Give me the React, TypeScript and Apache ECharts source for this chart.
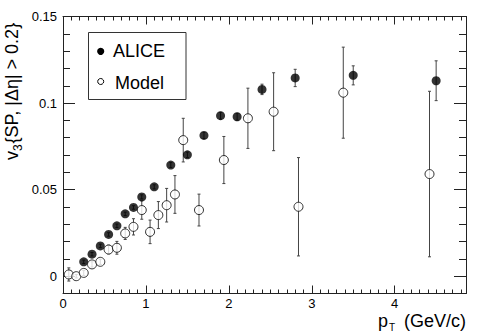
import { useEffect, useRef } from "react";
import * as echarts from "echarts";

const FONT = "Liberation Sans";

// ALICE data (filled circles)
const aliceX = [0.25, 0.35, 0.45, 0.55, 0.65, 0.75, 0.85, 0.95, 1.1, 1.3, 1.5, 1.7, 1.9, 2.1, 2.4, 2.8, 3.5, 4.5];
const aliceV = [0.0083, 0.0127, 0.0175, 0.0241, 0.0291, 0.036, 0.0397, 0.0458, 0.0516, 0.0642, 0.0701, 0.0813, 0.0927, 0.0921, 0.1079, 0.1145, 0.116, 0.1129];
const aliceErr = [0.001, 0.001, 0.001, 0.001, 0.001, 0.001, 0.001, 0.0012, 0.0012, 0.0014, 0.0016, 0.0018, 0.002, 0.002, 0.003, 0.005, 0.0055, 0.0115];

// Model data (open circles)
const modelX = [0.07, 0.16, 0.25, 0.35, 0.45, 0.55, 0.65, 0.75, 0.85, 0.95, 1.05, 1.15, 1.25, 1.35, 1.45, 1.64, 1.94, 2.23, 2.54, 2.84, 3.38, 4.42];
const modelV = [0.001, 0.0, 0.0019, 0.0068, 0.0083, 0.0154, 0.0164, 0.0247, 0.0285, 0.0382, 0.0256, 0.0353, 0.041, 0.0472, 0.0786, 0.0382, 0.0671, 0.0912, 0.095, 0.0401, 0.106, 0.059];
const modelErr = [0.0038, 0.001, 0.0015, 0.0015, 0.0015, 0.0025, 0.0037, 0.0035, 0.0047, 0.0053, 0.0068, 0.0078, 0.0097, 0.0109, 0.0126, 0.0092, 0.0136, 0.0174, 0.0225, 0.0284, 0.0263, 0.0478];

// Axis settings
const X_MIN = 0;
const X_MAX = 4.86;
const Y_MIN = -0.01;
const Y_MAX = 0.15;
const yMajorTicks = [0, 0.05, 0.1, 0.15];

const LINE = { color: "#222", width: 1 };

function errorSeries(xs: number[], vs: number[], es: number[]) {
  return {
    type: "custom",
    xAxisIndex: 0,
    yAxisIndex: 0,
    silent: true,
    z: 1,
    data: xs.map((x, i) => [x, vs[i] - es[i], vs[i] + es[i]]),
    encode: { x: 0, y: [1, 2] },
    renderItem: (_params: any, api: any) => {
      const lo = api.coord([api.value(0), api.value(1)]);
      const hi = api.coord([api.value(0), api.value(2)]);
      const style = { stroke: "#444", lineWidth: 1 };
      return {
        type: "group",
        children: [
          { type: "line", shape: { x1: lo[0], y1: lo[1], x2: hi[0], y2: hi[1] }, style },
          { type: "line", shape: { x1: lo[0] - 1.5, y1: lo[1], x2: lo[0] + 1.5, y2: lo[1] }, style },
          { type: "line", shape: { x1: hi[0] - 1.5, y1: hi[1], x2: hi[0] + 1.5, y2: hi[1] }, style },
        ],
      };
    },
  };
}

function xAxisDef(position: "bottom" | "top", minor: boolean) {
  return {
    type: "value",
    position,
    min: X_MIN,
    max: X_MAX,
    interval: minor ? 0.1 : 1,
    axisLine: { show: !minor, onZero: false, lineStyle: LINE },
    axisTick: { show: true, inside: true, length: minor ? 4 : 8, lineStyle: LINE },
    axisLabel: {
      show: !minor && position === "bottom",
      fontSize: 13,
      fontFamily: FONT,
      color: "#000",
      margin: 3,
      showMaxLabel: false,
    },
    splitLine: { show: false },
  };
}

function yAxisDef(position: "left" | "right", minor: boolean) {
  const base: any = {
    type: "value",
    position,
    min: Y_MIN,
    max: Y_MAX,
    axisLine: { show: !minor, onZero: false, lineStyle: LINE },
    splitLine: { show: false },
  };
  if (minor) {
    base.interval = 0.01;
    base.axisTick = { show: true, inside: true, length: 7, lineStyle: LINE };
    base.axisLabel = { show: false };
  } else {
    base.axisTick = { show: true, inside: true, length: 12, lineStyle: LINE, customValues: yMajorTicks };
    base.axisLabel = {
      show: position === "left",
      customValues: yMajorTicks,
      formatter: (v: number) => String(Math.round(v * 1000) / 1000),
      fontSize: 13,
      fontFamily: FONT,
      color: "#000",
      margin: 6,
    };
  }
  return base;
}

function buildOption() {
  return {
    animation: false,
    backgroundColor: "#fff",
    grid: { left: 63, top: 16.5, width: 403, height: 277 },
    xAxis: [xAxisDef("bottom", false), xAxisDef("bottom", true), xAxisDef("top", false), xAxisDef("top", true)],
    yAxis: [yAxisDef("left", false), yAxisDef("left", true), yAxisDef("right", false), yAxisDef("right", true)],
    series: [
      errorSeries(aliceX, aliceV, aliceErr),
      errorSeries(modelX, modelV, modelErr),
      {
        name: "ALICE",
        type: "scatter",
        xAxisIndex: 0,
        yAxisIndex: 0,
        z: 3,
        symbol: "circle",
        symbolSize: 9,
        itemStyle: { color: "#000" },
        data: aliceX.map((x, i) => [x, aliceV[i]]),
      },
      {
        name: "Model",
        type: "scatter",
        xAxisIndex: 0,
        yAxisIndex: 0,
        z: 3,
        symbol: "circle",
        symbolSize: 9,
        itemStyle: { color: "#fff", borderColor: "#000", borderWidth: 1 },
        data: modelX.map((x, i) => [x, modelV[i]]),
      },
    ],
    graphic: [
      // legend box
      {
        type: "rect",
        shape: { x: 88.5, y: 32.5, width: 97.5, height: 67 },
        style: { fill: "#fff", stroke: "#333", lineWidth: 1 },
        z: 10,
      },
      { type: "circle", shape: { cx: 100.7, cy: 51.3, r: 3.6 }, style: { fill: "#000" }, z: 11 },
      {
        type: "text",
        x: 113,
        y: 51,
        style: { text: "ALICE", fontSize: 18, fontFamily: FONT, fill: "#000", align: "left", verticalAlign: "middle" },
        z: 11,
      },
      {
        type: "circle",
        shape: { cx: 100.7, cy: 81.5, r: 3 },
        style: { fill: "#fff", stroke: "#000", lineWidth: 1 },
        z: 11,
      },
      {
        type: "text",
        x: 115,
        y: 83,
        style: { text: "Model", fontSize: 18, fontFamily: FONT, fill: "#000", align: "left", verticalAlign: "middle" },
        z: 11,
      },
      // x axis title
      {
        type: "text",
        x: 378,
        y: 321,
        style: { text: "p", fontSize: 18, fontFamily: FONT, fill: "#000", align: "left", verticalAlign: "middle" },
      },
      {
        type: "text",
        x: 389,
        y: 327.5,
        style: { text: "T", fontSize: 10, fontFamily: FONT, fill: "#000", align: "left", verticalAlign: "middle" },
      },
      {
        type: "text",
        x: 466,
        y: 321,
        style: { text: "(GeV/c)", fontSize: 18, fontFamily: FONT, fill: "#000", align: "right", verticalAlign: "middle" },
      },
      // y axis title (rotated)
      {
        type: "group",
        x: 11.8,
        y: 160,
        rotation: Math.PI / 2,
        children: [
          {
            type: "text",
            x: 0,
            y: 0,
            style: { text: "v", fontSize: 18, fontFamily: FONT, fill: "#000", align: "left", verticalAlign: "middle" },
          },
          {
            type: "text",
            x: 9,
            y: 6,
            style: { text: "3", fontSize: 12, fontFamily: FONT, fill: "#000", align: "left", verticalAlign: "middle" },
          },
          {
            type: "text",
            x: 16.5,
            y: 0,
            style: {
              text: "{SP, |Δη| > 0.2}",
              fontSize: 18,
              fontFamily: FONT,
              fill: "#000",
              align: "left",
              verticalAlign: "middle",
            },
          },
        ],
      },
    ],
  };
}

export default function App() {
  const ref = useRef<HTMLDivElement>(null);
  useEffect(() => {
    if (!ref.current) return;
    const chart = echarts.init(ref.current, null, { renderer: "svg" });
    chart.setOption(buildOption() as any);
    return () => chart.dispose();
  }, []);
  return (
    <div
      ref={ref}
      style={{ position: "fixed", left: 0, top: 0, width: 491, height: 334, background: "#fff" }}
    />
  );
}
